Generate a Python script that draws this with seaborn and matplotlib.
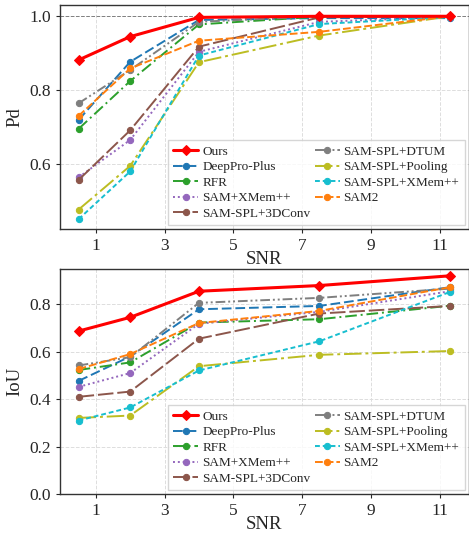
import numpy as np
import pandas as pd
import matplotlib
matplotlib.use("Agg")
import matplotlib.pyplot as plt
import seaborn as sns

# SNR positions
snr = [0.5, 2, 4, 7.5, 11.3]

methods = ["Ours", "DeepPro-Plus", "RFR", "SAM+XMem++", "SAM-SPL+3DConv",
           "SAM-SPL+DTUM", "SAM-SPL+Pooling", "SAM-SPL+XMem++", "SAM2"]

# Pd values
pd_ours = [0.882, 0.945, 0.997, 1.0, 1.0]
pd_deeppro = [0.720, 0.877, 0.990, 0.995, 0.995]
pd_rfr = [0.696, 0.825, 0.978, 0.999, 1.0]
pd_samxmem = [0.565, 0.666, 0.904, 0.985, 0.998]
pd_3dconv = [0.558, 0.692, 0.918, 0.997, 1.0]
pd_dtum = [0.765, 0.855, 0.985, 1.0, 1.0]
pd_pooling = [0.478, 0.596, 0.876, 0.948, 1.0]
pd_splxmem = [0.452, 0.581, 0.894, 0.979, 0.998]
pd_sam2 = [0.731, 0.859, 0.934, 0.958, 1.0]

# IoU values
iou_ours = [0.687, 0.745, 0.855, 0.879, 0.920]
iou_deeppro = [0.477, 0.580, 0.779, 0.793, 0.872]
iou_rfr = [0.523, 0.555, 0.723, 0.737, 0.794]
iou_samxmem = [0.452, 0.510, 0.718, 0.768, 0.855]
iou_3dconv = [0.410, 0.432, 0.655, 0.761, 0.793]
iou_dtum = [0.542, 0.577, 0.806, 0.827, 0.866]
iou_pooling = [0.321, 0.331, 0.539, 0.587, 0.603]
iou_splxmem = [0.310, 0.365, 0.521, 0.644, 0.852]
iou_sam2 = [0.527, 0.590, 0.721, 0.772, 0.872]

pd_vals = [pd_ours, pd_deeppro, pd_rfr, pd_samxmem, pd_3dconv,
           pd_dtum, pd_pooling, pd_splxmem, pd_sam2]
iou_vals = [iou_ours, iou_deeppro, iou_rfr, iou_samxmem, iou_3dconv,
            iou_dtum, iou_pooling, iou_splxmem, iou_sam2]

colors = ["#ff0000", "#1f77b4", "#2ca02c", "#9467bd", "#8c564b",
          "#7f7f7f", "#bcbd22", "#17becf", "#ff7f0e"]
styles = ["-", (0, (5, 2)), (0, (6, 2, 1, 2)), (0, (1, 1.5)), (0, (8, 2)),
          (0, (5, 1.5, 1, 1.5, 1, 1.5)), (0, (9, 2, 1.5, 2)), (0, (2.5, 1.5)), (0, (4, 1.5))]

sns.set_style("white")
plt.rcParams["font.family"] = ["Liberation Serif", "DejaVu Serif"]

fig = plt.figure(figsize=(4.69, 5.33), dpi=100)
ax1 = fig.add_axes([0.128, 0.570, 0.871, 0.421])
ax2 = fig.add_axes([0.128, 0.073, 0.871, 0.422])


def draw(ax, vals, ylabel):
    for name, v, c, ls in zip(methods, vals, colors, styles):
        df = pd.DataFrame({"SNR": snr, "val": v})
        if name == "Ours":
            sns.lineplot(data=df, x="SNR", y="val", ax=ax, color=c, linestyle=ls,
                         linewidth=2.2, marker="D", markersize=5,
                         markeredgecolor=c, label=name, zorder=5)
        else:
            sns.lineplot(data=df, x="SNR", y="val", ax=ax, color=c, linestyle=ls,
                         linewidth=1.4, marker="o", markersize=4.5,
                         markeredgecolor=c, label=name, zorder=3)
    ax.set_xticks([1, 3, 5, 7, 9, 11])
    ax.set_xlim(-0.04, 11.84)
    ax.grid(True, linestyle="--", color="#dddddd", linewidth=0.7)
    ax.set_xlabel("SNR", fontsize=13.5, labelpad=-2)
    ax.set_ylabel(ylabel, fontsize=13.5)
    ax.tick_params(axis="both", labelsize=12.5, length=3, direction="out",
                   left=True, bottom=True)
    for s in ax.spines.values():
        s.set_color("#333333")
        s.set_linewidth(1.0)
    leg = ax.legend(ncol=2, loc="lower right", fontsize=9.5, frameon=True,
                    handlelength=1.9, columnspacing=0.3, labelspacing=0.25,
                    borderpad=0.4, handletextpad=0.3, borderaxespad=0.3,
                    fancybox=False)
    leg.get_frame().set_edgecolor("#cccccc")


draw(ax1, pd_vals, "Pd")
ax1.axhline(1.0, color="gray", linestyle="--", linewidth=0.7, zorder=1)
ax1.set_ylim(0.425, 1.031)
ax1.set_yticks([0.6, 0.8, 1.0])

draw(ax2, iou_vals, "IoU")
ax2.set_ylim(0.0, 0.948)
ax2.set_yticks([0.0, 0.2, 0.4, 0.6, 0.8])

fig.savefig("out.png", dpi=100)
